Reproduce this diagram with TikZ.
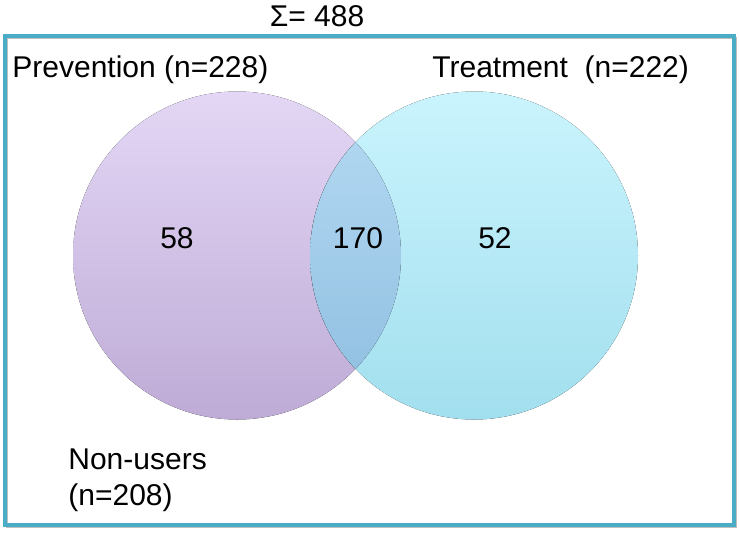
\documentclass[tikz,border=0pt]{standalone}
\usepackage{fontspec}
\setmainfont{Liberation Sans}
\usetikzlibrary{positioning}
\definecolor{frameteal}{RGB}{75,172,198}
\definecolor{prevtop}{RGB}{227,215,245}
\definecolor{prevbot}{RGB}{190,171,214}
\definecolor{treattop}{RGB}{202,244,253}
\definecolor{treatbot}{RGB}{162,223,238}
\definecolor{bothtop}{RGB}{182,219,244}
\definecolor{bothbot}{RGB}{141,189,223}

\begin{document}
\begin{tikzpicture}[x=0.5pt,y=-0.5pt,
    every node/.style={inner sep=0pt, font=\fontsize{15}{18}\selectfont},
    framebox/.style={draw=frameteal, line width=1.6pt},
    setlabel/.style={anchor=west}]
\useasboundingbox (0,0) rectangle (740,532);

% frame with a light shadow
\draw[black!25, line width=1.2pt] (7,38) rectangle (736,527);
\draw[framebox] (5,36) rectangle (734,525);

% the two sets
\coordinate (prevc) at (237,255.5);
\coordinate (treatc) at (474,255.5);
\fill[top color=prevtop, bottom color=prevbot] (prevc) circle (164);
\fill[top color=treattop, bottom color=treatbot] (treatc) circle (164);
\begin{scope}
    \clip (prevc) circle (164);
    \fill[top color=bothtop, bottom color=bothbot] (treatc) circle (164);
\end{scope}

% labels
\node (total) at (317,16) {Σ= 488};
\node[setlabel] (prevlabel) at (12,70) {Prevention (n=228)};
\node[setlabel] (treatlabel) at (432,70) {Treatment\ \ (n=222)};
\node (prevonly) at (177,238) {58};
\node (both) at (358,238) {170};
\node (treatonly) at (495,238) {52};
\node[setlabel, align=left] (nonusers) at (68,480) {Non-users\\(n=208)};
\end{tikzpicture}
\end{document}
